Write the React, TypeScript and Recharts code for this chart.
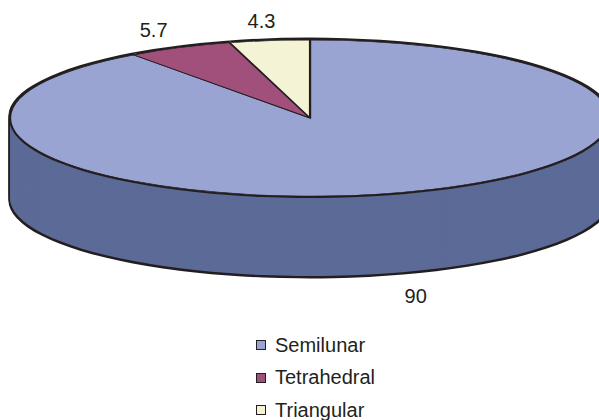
import { PieChart, Pie, Cell } from "recharts";

const shapes = ["Semilunar", "Tetrahedral", "Triangular"];
const shares = [90, 5.7, 4.3];
const topColors = ["#99A4D2", "#A0507A", "#F5F3D5"];
const sideColors = ["#5C6A97", "#6E3752", "#A9A88F"];

const data = shapes.map((name, i) => ({ name, value: shares[i] }));

// fake 3d: every pie is squashed vertically by css, stacked to build the side
const CX = 310;
const TOP_Y = 118;
const RX = 300;
const K = 0.26;
const DEPTH = 80;
const EDGE = 2;
const INK = "#231F20";

const sideLevels: number[] = [];
for (let d = DEPTH; d > 0; d -= 2) sideLevels.push(TOP_Y + d);
const outlineLevels: number[] = [];
for (let d = DEPTH + EDGE; d >= -EDGE; d -= 2) outlineLevels.push(TOP_Y + d);

const css = `
.squash { transform-box: view-box; transform-origin: 0 0; transform: scaleY(${K}); }
.squash .squash { transform: none; }
`;

const renderLabel = (props: any) => {
  const { cx, cy, midAngle, outerRadius, value } = props;
  const rad = (midAngle * Math.PI) / 180;
  const c = Math.cos(rad);
  const s = Math.sin(rad);
  const front = s < 0;
  const x = cx + outerRadius * (front ? 1.14 : 1.2) * c;
  const y = cy - outerRadius * K * 1.25 * s + (front ? DEPTH + 5 : 0);
  return (
    <text
      x={x}
      y={y}
      textAnchor="middle"
      dominantBaseline="central"
      fill={INK}
      fontSize={20}
      fontFamily="'Liberation Sans', Arial, sans-serif"
    >
      {value}
    </text>
  );
};

const pieBase = {
  className: "squash",
  data,
  dataKey: "value",
  cx: CX,
  startAngle: 90,
  endAngle: -270,
  legendType: "none" as const,
  isAnimationActive: false,
};

export default function App() {
  return (
    <div style={{ position: "absolute", left: 0, top: 0, width: 599, height: 420 }}>
      <style>{css}</style>
      <PieChart width={599} height={420} margin={{ top: 0, right: 0, bottom: 0, left: 0 }}>
        {outlineLevels.map((y) => (
          <Pie
            key={"o" + y}
            {...pieBase}
            cy={y / K}
            outerRadius={RX + 1.6}
            fill={INK}
            stroke="none"
          />
        ))}
        {sideLevels.map((y) => (
          <Pie key={"f" + y} {...pieBase} cy={y / K} outerRadius={RX} stroke="none">
            {data.map((d, i) => (
              <Cell key={d.name} fill={sideColors[i]} />
            ))}
          </Pie>
        ))}
        {/* seam between top face and side */}
        <Pie {...pieBase} cy={(TOP_Y + EDGE) / K} outerRadius={RX} fill={INK} stroke="none" />
        <Pie {...pieBase} cy={TOP_Y / K} outerRadius={RX} stroke={INK} strokeWidth={2.2}>
          {data.map((d, i) => (
            <Cell key={d.name} fill={topColors[i]} />
          ))}
        </Pie>
        <Pie
          data={data}
          dataKey="value"
          cx={CX}
          cy={TOP_Y}
          outerRadius={RX}
          startAngle={90}
          endAngle={-270}
          fill="none"
          stroke="none"
          label={renderLabel}
          labelLine={false}
          legendType="none"
          isAnimationActive={false}
        />
      </PieChart>
      <div
        style={{
          position: "absolute",
          left: 256,
          top: 329,
          fontFamily: "'Liberation Sans', Arial, sans-serif",
          fontSize: 20,
          color: INK,
        }}
      >
        {shapes.map((name, i) => (
          <div key={name} style={{ display: "flex", alignItems: "center", height: 32.5 }}>
            <span
              style={{
                width: 8,
                height: 8,
                border: `1px solid ${INK}`,
                background: topColors[i],
                marginRight: 9,
              }}
            />
            {name}
          </div>
        ))}
      </div>
    </div>
  );
}
